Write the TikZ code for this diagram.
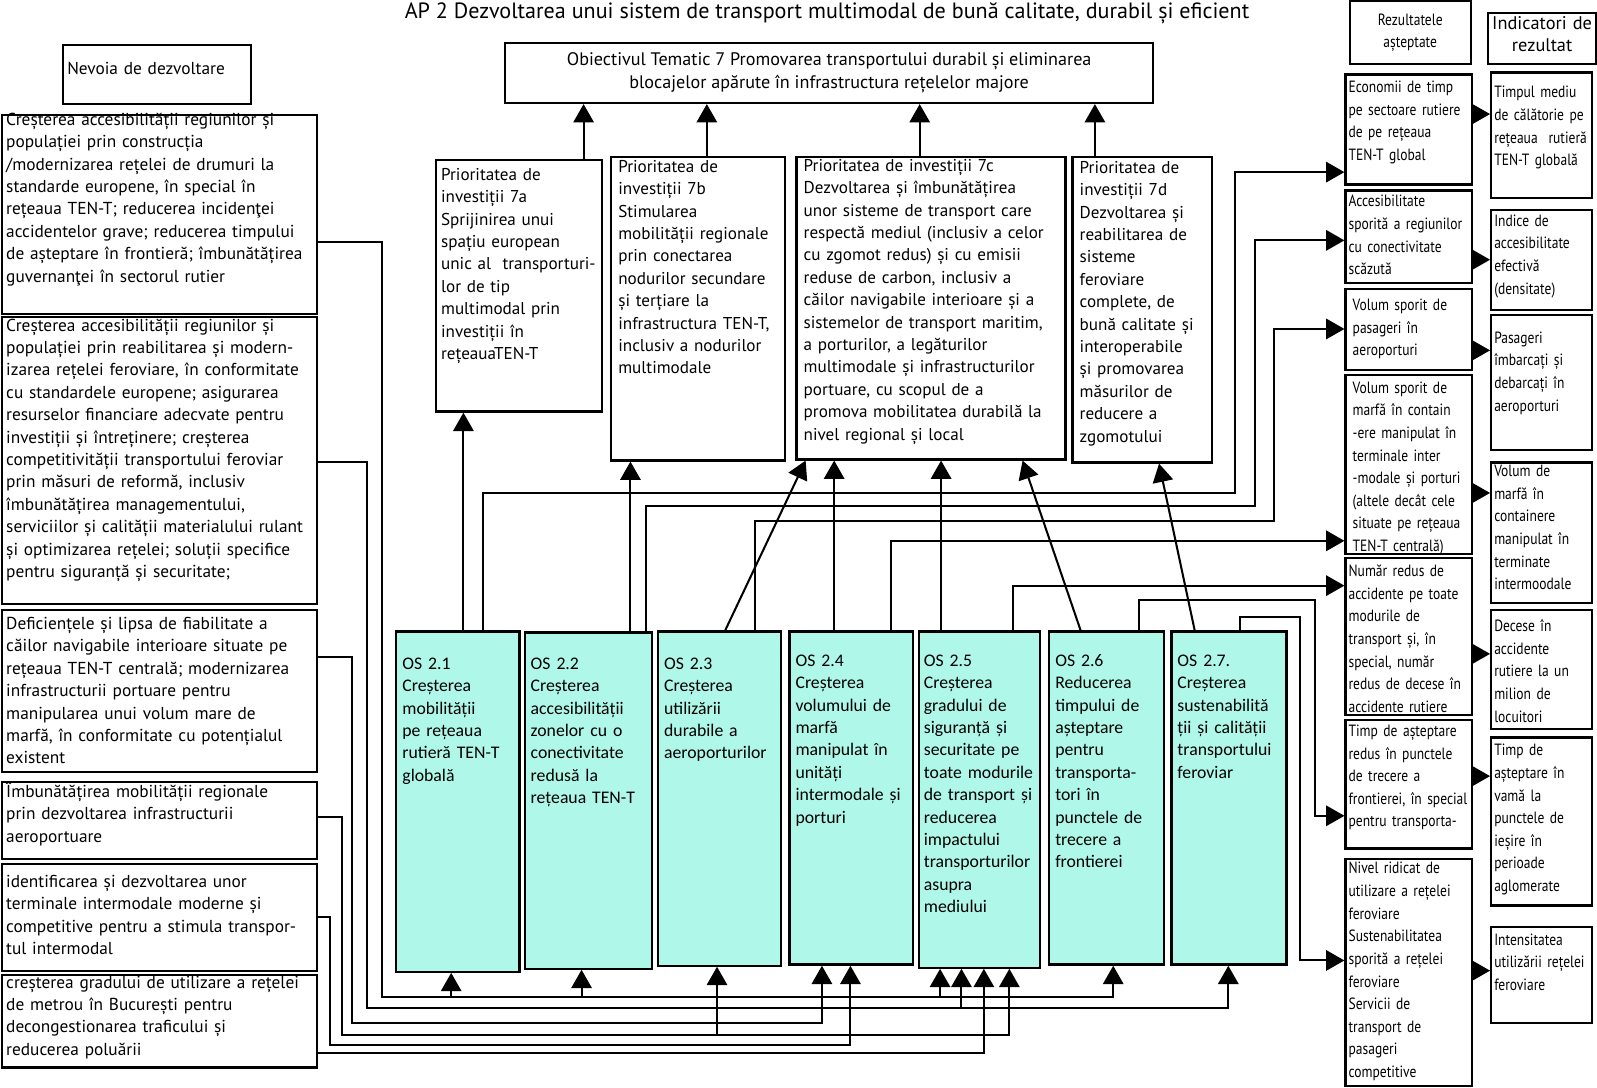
\documentclass[tikz,border=0pt]{standalone}
\usepackage{fontspec}
\setmainfont{PT Sans}
\newfontfamily\condfont[FakeStretch=0.83]{PT Sans}
\newfontfamily\osfont{Carlito}
\usetikzlibrary{arrows.meta}

\definecolor{osfill}{RGB}{175,247,233}

\tikzset{
  % box of given width, height and gap above the first line (all in px)
  boxwh/.code n args={3}{%
    \pgfmathsetlengthmacro\bw{#1*0.5pt}%
    \pgfmathsetlengthmacro\btw{#1*0.5pt-2*\pgfkeysvalueof{/pgf/inner xsep}}%
    \pgfmathsetlengthmacro\bth{#3*0.5pt+6pt}%
    \pgfmathsetlengthmacro\btd{#2*0.5pt-#3*0.5pt-6pt-2*\pgfkeysvalueof{/pgf/inner ysep}}%
    \pgfkeysalso{minimum width=\bw, text width=\btw, text height=\bth, text depth=\btd}},
  basebox/.style={draw, line width=1.1pt, anchor=north west, align=left,
    inner xsep=2pt, inner ysep=1.5pt, font=\fontsize{8.5}{11}\selectfont},
  needbox/.style={basebox},
  priobox/.style={basebox, inner xsep=3.5pt, font=\fontsize{8.4}{11}\selectfont},
  osbox/.style={basebox, fill=osfill, inner xsep=3pt,
    font=\osfont\fontsize{8.7}{11}\selectfont},
  resbox/.style={basebox, inner xsep=1.5pt, font=\condfont\fontsize{8}{11.1}\selectfont},
  indbox/.style={resbox},
  headbox/.style={draw, line width=1.1pt, anchor=north west, align=center, inner sep=0pt},
  link/.style={line width=1pt},
  arrowline/.style={link, -{Triangle[width=10pt,length=9pt]}}
}

\begin{document}
\begin{tikzpicture}[x=0.5pt, y=-0.5pt]
\useasboundingbox (0,0) rectangle (1568,1068);

\node[font=\fontsize{10.85}{12}\selectfont] (title) at (812,13)
  {AP 2 Dezvoltarea unui sistem de transport multimodal de bună calitate, durabil și eficient};

% headers
\node[basebox, boxwh={184}{58}{14}] (nevoia) at (61,43) {Nevoia de dezvoltare};
\node[headbox, minimum width=318pt, minimum height=29.5pt, font=\fontsize{8.9}{11}\selectfont]
  (ot7) at (495,41) {Obiectivul Tematic 7 Promovarea transportului durabil și eliminarea\\
  blocajelor apărute în infrastructura rețelelor majore};
\node[headbox, minimum width=59.5pt, minimum height=31pt, font=\condfont\fontsize{8}{11}\selectfont]
  (rez) at (1324,0) {Rezultatele\\așteptate};
\node[basebox, align=center, inner xsep=0pt, font=\fontsize{9}{10.5}\selectfont,
  boxwh={106}{50}{1}] (ind) at (1460,12) {Indicatori de\\rezultat};

% development needs
\node[needbox, boxwh={309}{195}{-5}] (n1) at (1,112) {Creșterea accesibilității regiunilor și\\
  populației prin construcția\\/modernizarea rețelei de drumuri la\\standarde europene, în special în\\
  rețeaua TEN-T; reducerea incidenţei\\accidentelor grave; reducerea timpului\\
  de așteptare în frontieră; îmbunătățirea\\guvernanţei în sectorul rutier};
\node[needbox, boxwh={309}{282}{-1}] (n2) at (1,310) {Creșterea accesibilității regiunilor și\\
  populației prin reabilitarea și modern-\\izarea rețelei feroviare, în conformitate\\
  cu standardele europene; asigurarea\\resurselor financiare adecvate pentru\\
  investiții și întreținere; creșterea\\competitivității transportului feroviar\\
  prin măsuri de reformă, inclusiv\\îmbunătățirea managementului,\\
  serviciilor și calității materialului rulant\\și optimizarea rețelei; soluții specifice\\
  pentru siguranță și securitate;};
\node[needbox, boxwh={309}{159}{4}] (n3) at (1,598) {Deficiențele și lipsa de fiabilitate a\\
  căilor navigabile interioare situate pe\\rețeaua TEN-T centrală; modernizarea\\
  infrastructurii portuare pentru\\manipularea unui volum mare de\\
  marfă, în conformitate cu potențialul\\existent};
\node[needbox, boxwh={309}{75}{0}] (n4) at (1,767) {Îmbunătățirea mobilității regionale\\
  prin dezvoltarea infrastructurii\\aeroportuare};
\node[needbox, boxwh={309}{105}{8}] (n5) at (1,847) {identificarea și dezvoltarea unor\\
  terminale intermodale moderne și\\competitive pentru a stimula transpor-\\tul intermodal};
\node[needbox, boxwh={309}{91}{-2}] (n6) at (1,956) {creșterea gradului de utilizare a rețelei\\
  de metrou în București pentru\\decongestionarea traficului și\\reducerea poluării};

% investment priorities
\node[priobox, inner xsep=2.5pt, boxwh={163}{247}{5}] (p7a) at (427,156) {Prioritatea de\\investiții 7a\\
  Sprijinirea unui\\spațiu european\\unic al\ \ transporturi-\\lor de tip\\multimodal prin\\
  investiții în\\rețeauaTEN-T};
\node[priobox, boxwh={171}{298}{0}] (p7b) at (599,153) {Prioritatea de\\investiții 7b\\
  Stimularea\\mobilității regionale\\prin conectarea\\nodurilor secundare\\și terțiare la\\
  infrastructura TEN-T,\\inclusiv a nodurilor\\multimodale};
\node[priobox, boxwh={264}{297}{-1}] (p7c) at (781,153) {Prioritatea de investiții 7c\\
  Dezvoltarea și îmbunătățirea\\unor sisteme de transport care\\respectă mediul (inclusiv a celor\\
  cu zgomot redus) și cu emisii\\reduse de carbon, inclusiv a\\căilor navigabile interioare și a\\
  sistemelor de transport maritim,\\a porturilor, a legăturilor\\multimodale și infrastructurilor\\
  portuare, cu scopul de a\\promova mobilitatea durabilă la\\nivel regional și local};
\node[priobox, boxwh={137}{300}{1}] (p7d) at (1052,153) {Prioritatea de\\investiții 7d\\
  Dezvoltarea și\\reabilitarea de\\sisteme\\feroviare\\complete, de\\bună calitate și\\
  interoperabile\\și promovarea\\măsurilor de\\reducere a\\zgomotului};

% specific objectives
\node[osbox, boxwh={121}{334}{22}] (os1) at (388,619) {OS 2.1\\Creșterea\\mobilității\\
  pe rețeaua\\rutieră TEN-T\\globală};
\node[osbox, boxwh={125}{330}{21}] (os2) at (514,620) {OS 2.2\\Creșterea\\accesibilității\\
  zonelor cu o\\conectivitate\\redusă la\\rețeaua TEN-T};
\node[osbox, boxwh={121}{328}{22}] (os3) at (645,619) {OS 2.3\\Creșterea\\utilizării\\
  durabile a\\aeroporturilor};
\node[osbox, boxwh={121}{327}{19}] (os4) at (774,619) {OS 2.4\\Creșterea\\volumului de\\
  marfă\\manipulat în\\unități\\intermodale și\\porturi};
\node[osbox, inner xsep=2.5pt, boxwh={119}{330}{19}] (os5) at (901,619) {OS 2.5\\Creșterea\\gradului de\\
  siguranță și\\securitate pe\\toate modurile\\de transport și\\reducerea\\impactului\\
  transporturilor\\asupra\\mediului};
\node[osbox, boxwh={113}{327}{19}] (os6) at (1029,619) {OS 2.6\\Reducerea\\timpului de\\
  așteptare\\pentru\\transporta-\\tori în\\punctele de\\trecere a\\frontierei};
\node[osbox, boxwh={113}{327}{19}] (os7) at (1149,619) {OS 2.7.\\Creșterea\\sustenabilită\\
  ții și calității\\transportului\\feroviar};

% expected results
\node[resbox, boxwh={124}{108}{3}] (r1) at (1320,72) {Economii de timp\\pe sectoare rutiere\\
  de pe rețeaua\\TEN-T global};
\node[resbox, boxwh={124}{91}{1}] (r2) at (1320,186) {Accesibilitate\\sporită a regiunilor\\
  cu conectivitate\\scăzută};
\node[resbox, inner xsep=3.5pt, boxwh={124}{79}{6}] (r3) at (1320,283) {Volum sporit de\\
  pasageri în\\aeroporturi};
\node[resbox, inner xsep=3.5pt, boxwh={124}{176}{3}] (r4) at (1320,367) {Volum sporit de\\
  marfă în contain\\-ere manipulat în\\terminale inter\\-modale și porturi\\
  (altele decât cele\\situate pe rețeaua\\TEN-T centrală)};
\node[resbox, boxwh={124}{154}{3}] (r5) at (1320,547) {Număr redus de\\accidente pe toate\\
  modurile de\\transport și, în\\special, număr\\redus de decese în\\accidente rutiere};
\node[resbox, boxwh={124}{126}{1}] (r6) at (1320,706) {Timp de așteptare\\redus în punctele\\
  de trecere a\\frontierei, în special\\pentru transporta-};
\node[resbox, boxwh={124}{223}{0}] (r7) at (1320,842) {Nivel ridicat de\\utilizare a rețelei\\
  feroviare\\Sustenabilitatea\\sporită a rețelei\\feroviare\\Servicii de\\transport de\\
  pasageri\\competitive};

% result indicators
\node[indbox, boxwh={99}{123}{10}] (i1) at (1463,70) {Timpul mediu\\de călătorie pe\\
  rețeaua\ \ rutieră\\TEN-T globală};
\node[indbox, boxwh={99}{98}{1}] (i2) at (1463,205) {Indice de\\accesibilitate\\efectivă\\
  (densitate)};
\node[indbox, boxwh={99}{133}{13}] (i3) at (1463,308) {Pasageri\\îmbarcați și\\debarcați în\\
  aeroporturi};
\node[indbox, boxwh={99}{138}{-1}] (i4) at (1463,453) {Volum de\\marfă în\\containere\\
  manipulat în\\terminate\\intermoodale};
\node[indbox, boxwh={99}{117}{6}] (i5) at (1463,598) {Decese în\\accidente\\rutiere la un\\
  milion de\\locuitori};
\node[indbox, boxwh={99}{165}{3}] (i6) at (1463,723) {Timp de\\așteptare în\\vamă la\\
  punctele de\\ieșire în\\perioade\\aglomerate};
\node[indbox, boxwh={99}{94}{3}] (i7) at (1463,909) {Intensitatea\\utilizării rețelei\\feroviare};

% priorities to the thematic objective
\foreach \p/\x in {p7a/573, p7b/694, p7c/903, p7d/1075}
  \draw[arrowline] (\p.north -| \x,0) -- (ot7.south -| \x,0);

% specific objectives to priorities
\draw[arrowline] (os1.north -| 455,0) -- (p7a.south -| 455,0);
\draw[arrowline] (os2.north -| 619,0) -- (p7b.south -| 619,0);
\draw[arrowline] (os3.north -| 712,0) -- (p7c.south -| 791,0);
\draw[arrowline] (os4.north -| 819,0) -- (p7c.south -| 819,0);
\draw[arrowline] (os5.north -| 924,0) -- (p7c.south -| 924,0);
\draw[arrowline] (os6.north -| 1061,0) -- (p7c.south -| 1004,0);
\draw[arrowline] (os7.north -| 1173,0) -- (p7d.south -| 1138,0);

% specific objectives to expected results
\draw[arrowline] (os1.north -| 474,0) |- (1213,484) |- (r1.west |- 0,169);
\draw[arrowline] (os2.north -| 634,0) |- (1232,497) |- (r2.west |- 0,236);
\draw[arrowline] (os3.north -| 741,0) |- (1251,512) |- (r3.west |- 0,323);
\draw[arrowline] (os4.north -| 875,0) |- (r4.west |- 0,531);
\draw[arrowline] (os5.north -| 995,0) |- (r5.west |- 0,575);
\draw[arrowline] (os6.north -| 1118,0) |- (1291,589) |- (r6.west |- 0,801);
\draw[arrowline] (os7.north -| 1217,0) |- (1276,606) |- (r7.west |- 0,943);

% results to indicators
\foreach \i/\y in {1/112, 2/255, 3/344, 4/484, 5/642, 6/762, 7/953}
  \draw[arrowline] (r\i.east |- 0,\y) -- (i\i.west |- 0,\y);

% development needs to specific objectives
\coordinate (bus1) at (375,979);
\coordinate (bus2) at (360,990);
\coordinate (bus3) at (346,1004);
\coordinate (bus4) at (336,1016);
\coordinate (bus5) at (324,1026);

\draw[arrowline] (n1.east |- 0,238) -| (bus1) -| (os6.south -| 1093,0);
\foreach \x/\o in {443/os1, 571/os2, 923/os5}
  \draw[arrowline] (bus1 -| \x,0) -- (\o.south -| \x,0);
\draw[arrowline] (n2.east |- 0,454) -| (bus2) -| (os7.south -| 1206,0);
\draw[arrowline] (bus2 -| 944,0) -- (os5.south -| 944,0);
\draw[arrowline] (n3.east |- 0,645) -| (bus3) -| (os4.south -| 807,0);
\draw[arrowline] (n4.east |- 0,802) -| (bus4) -| (os5.south -| 991,0);
\draw[arrowline] (bus4 -| 704,0) -- (os3.south -| 704,0);
\draw[arrowline] (n5.east |- 0,900) -| (bus5) -| (os4.south -| 835,0);
\draw[arrowline] (n6.east |- 0,1034) -| (os5.south -| 966,0);
\end{tikzpicture}
\end{document}
